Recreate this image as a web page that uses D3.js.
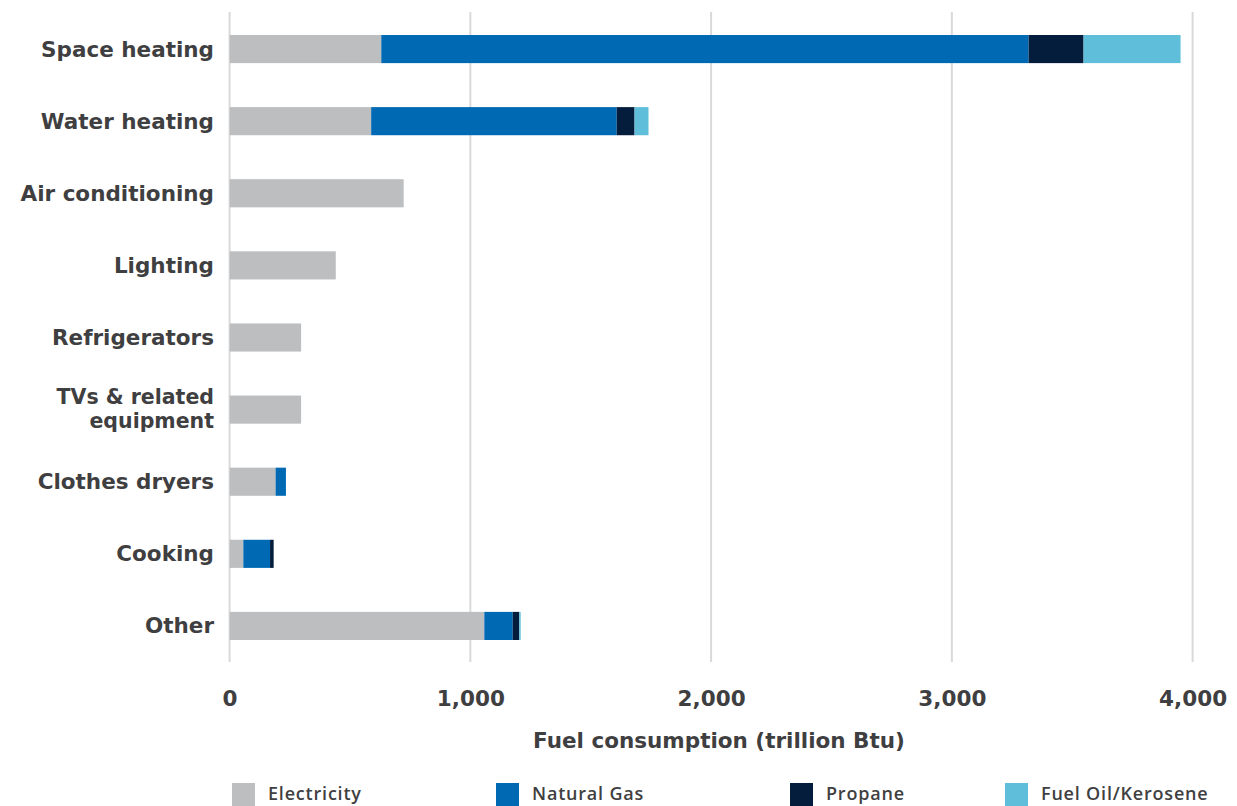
<!DOCTYPE html>
<html><head><meta charset="utf-8">
<script src="https://cdn.jsdelivr.net/npm/d3@7"></script>
<style>
html,body{margin:0;padding:0;background:#fff;}
svg{display:block;}
</style></head>
<body>
<svg id="chart" width="1237" height="806"></svg>
<script>
const categories = ["Space heating","Water heating","Air conditioning","Lighting","Refrigerators","TVs & related equipment","Clothes dryers","Cooking","Other"];
const seriesNames = ["Electricity","Natural Gas","Propane","Fuel Oil/Kerosene"];
const electricity = [630, 588, 723, 441, 297, 297, 191, 57, 1058];
const naturalGas  = [2689, 1020, 0, 0, 0, 0, 43, 111, 118];
const propane     = [228, 74, 0, 0, 0, 0, 0, 15, 27];
const fuelOil     = [403, 58, 0, 0, 0, 0, 0, 0, 6];
const xTicks = [0, 1000, 2000, 3000, 4000];
const colors = ["#bcbec0", "#0069b4", "#051d3c", "#5fbfdb"];

const rows = categories.map((c,i)=>({cat:c, "Electricity":electricity[i], "Natural Gas":naturalGas[i], "Propane":propane[i], "Fuel Oil/Kerosene":fuelOil[i]}));
const stacked = d3.stack().keys(seriesNames)(rows);

const svg = d3.select("#chart");
const x = d3.scaleLinear().domain([0,4000]).range([229.6, 1192.6]);
const y = d3.scaleBand().domain(categories).range([13, 662]).paddingInner(0.61).paddingOuter(0.305);
const color = d3.scaleOrdinal().domain(seriesNames).range(colors);
const textCol = "#3f3f42";
const labelFont = "'DejaVu Sans', sans-serif";
const labelSize = "21.5px";

// gridlines
svg.append("g").selectAll("line").data(xTicks).join("line")
  .attr("x1", d=>x(d)).attr("x2", d=>x(d))
  .attr("y1", 12).attr("y2", 662)
  .attr("stroke", "#d9d9da").attr("stroke-width", 2);

// bars
svg.append("g").selectAll("g").data(stacked).join("g")
  .attr("fill", d=>color(d.key))
  .selectAll("rect").data(d=>d).join("rect")
  .attr("x", d=>x(d[0])).attr("width", d=>Math.max(0, x(d[1])-x(d[0])))
  .attr("y", d=>y(d.data.cat)).attr("height", y.bandwidth());

// x axis tick labels
const xAxis = svg.append("g").attr("transform","translate(0,698)")
  .call(d3.axisBottom(x).tickValues(xTicks).tickSize(0).tickPadding(0).tickFormat(d3.format(",")));
xAxis.select(".domain").remove();
xAxis.selectAll("text").attr("dy","0.35em").attr("y",0)
  .attr("font-family", labelFont).attr("font-weight","bold").attr("font-size", labelSize).attr("fill", textCol);

// y axis labels
const yAxis = svg.append("g").attr("transform","translate(214,0)")
  .call(d3.axisLeft(y).tickSize(0).tickPadding(0));
yAxis.select(".domain").remove();
yAxis.selectAll(".tick text").each(function(d){
  const t = d3.select(this);
  t.attr("font-family", labelFont).attr("font-weight","bold").attr("font-size", labelSize).attr("fill", textCol).attr("x",0);
  if (d === "TVs & related equipment") {
    t.text(null).attr("dy", null).attr("font-size","20.5px");
    t.append("tspan").attr("x",0).attr("dy","-0.25em").text("TVs & related");
    t.append("tspan").attr("x",0).attr("dy","1.17em").text("equipment");
  } else {
    t.attr("dy","0.35em");
  }
});

// axis title
svg.append("text").attr("x", 719).attr("y", 740).attr("dy","0.35em")
  .attr("text-anchor","middle").attr("font-family", labelFont).attr("font-weight","bold")
  .attr("font-size", labelSize).attr("fill", textCol).text("Fuel consumption (trillion Btu)");

// legend
const legX = [232, 496, 790, 1005];
const leg = svg.append("g").selectAll("g").data(seriesNames).join("g")
  .attr("transform", (d,i)=>`translate(${legX[i]},783)`);
leg.append("rect").attr("width",23).attr("height",24).attr("fill", d=>color(d));
leg.append("text").attr("x",36).attr("y",11).attr("dy","0.35em")
  .attr("font-family","'Open Sans', sans-serif").attr("font-weight",600).attr("font-size","18px")
  .attr("letter-spacing","0.8px")
  .attr("fill", textCol).text(d=>d);
</script>
</body></html>
